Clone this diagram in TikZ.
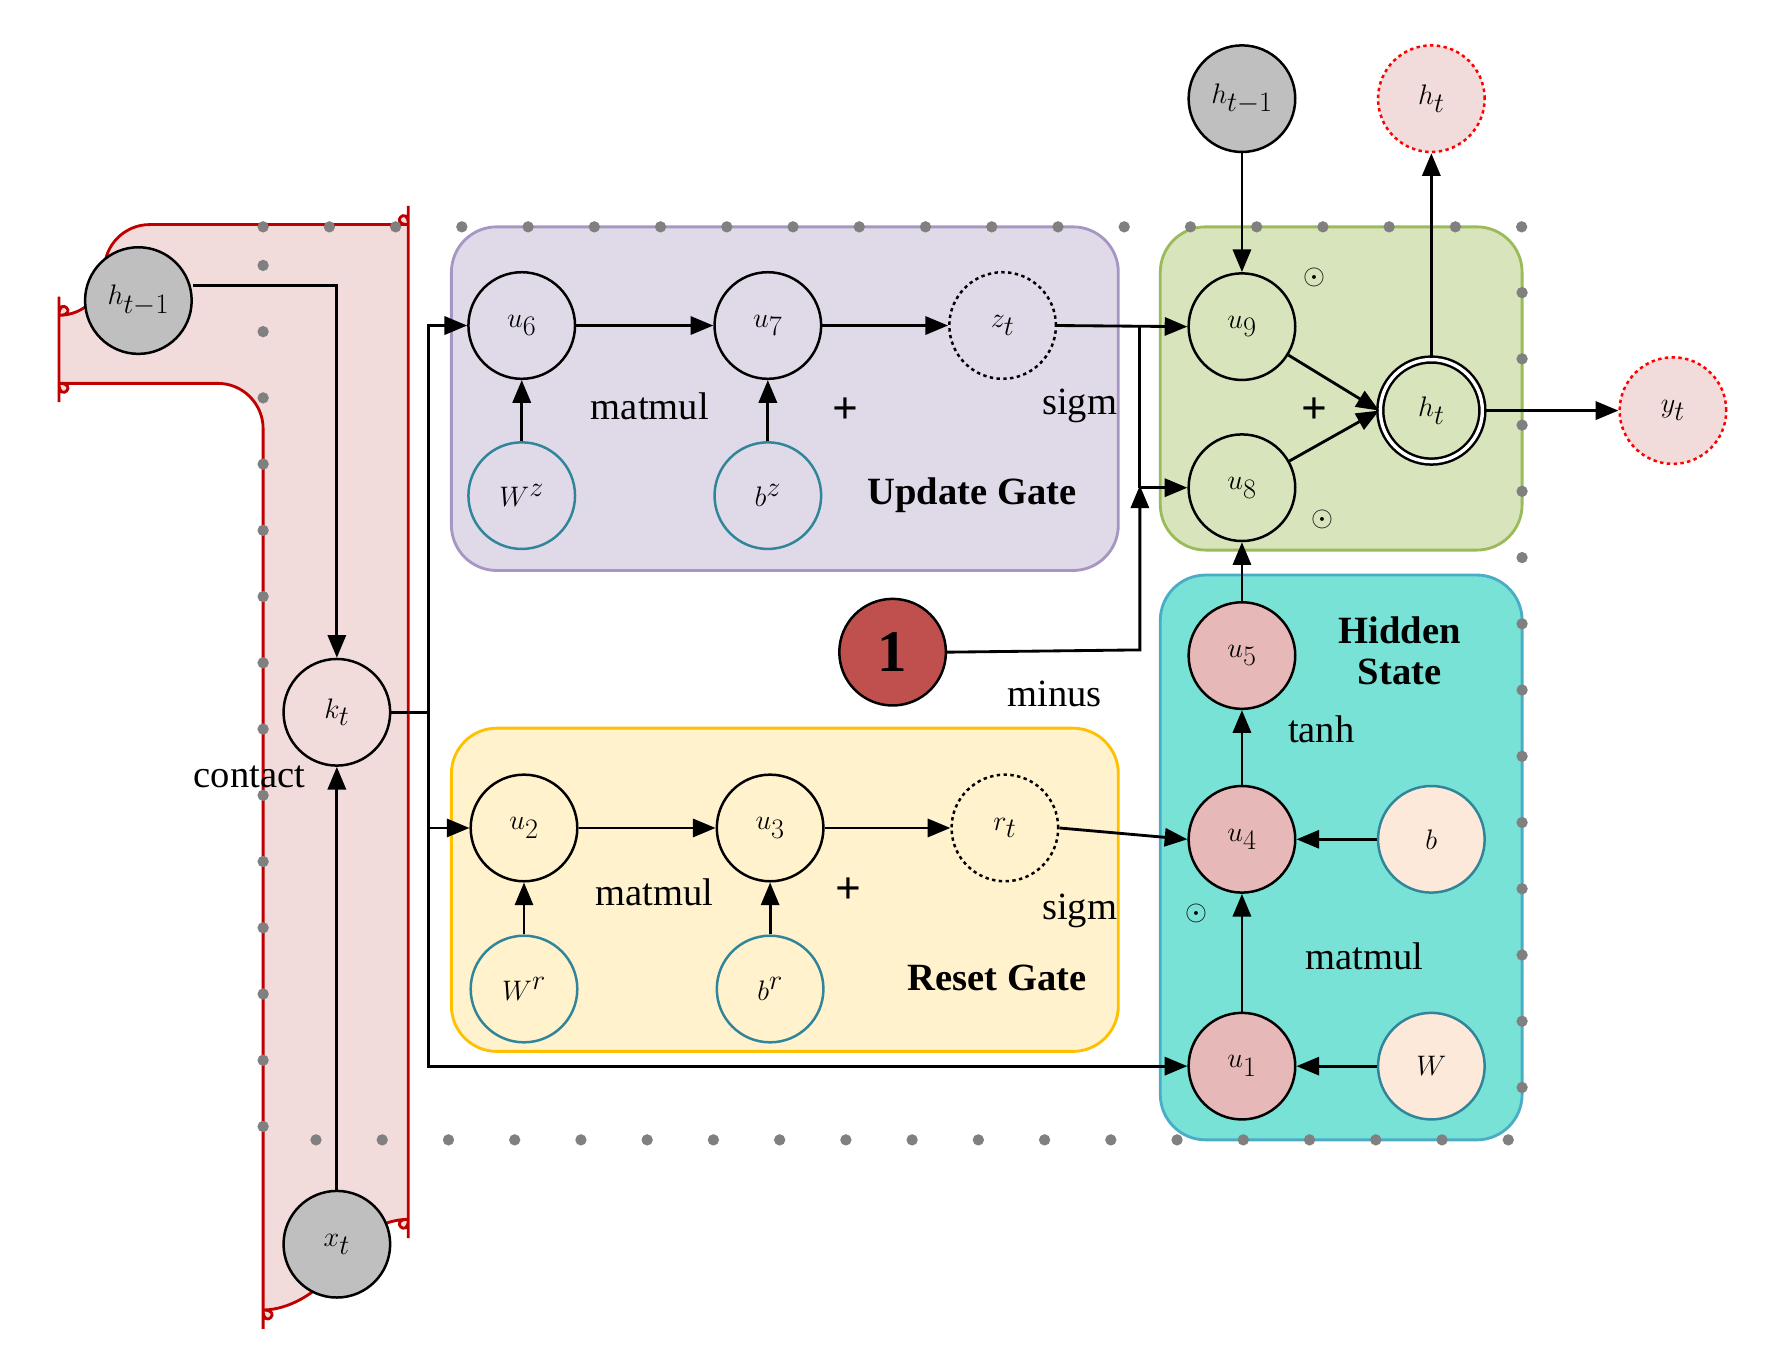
\documentclass[tikz,border=0pt]{standalone}
\usepackage{fontspec}
\setmainfont{Liberation Serif}
\usetikzlibrary{arrows.meta}
\definecolor{redbg}{RGB}{242,220,219}\definecolor{redbd}{RGB}{192,0,0}
\definecolor{purbg}{RGB}{224,218,232}\definecolor{purbd}{RGB}{167,150,196}
\definecolor{yelbg}{RGB}{255,242,204}\definecolor{yelbd}{RGB}{255,192,0}
\definecolor{grnbg}{RGB}{216,228,188}\definecolor{grnbd}{RGB}{155,187,89}
\definecolor{cyabg}{RGB}{120,226,214}\definecolor{cyabd}{RGB}{75,172,198}
\definecolor{pinkn}{RGB}{230,184,183}\definecolor{peach}{RGB}{252,233,218}
\definecolor{teal}{RGB}{49,133,155}\definecolor{onec}{RGB}{192,80,77}
\definecolor{grayn}{RGB}{191,191,191}
\begin{document}
\begin{tikzpicture}[x=1pt,y=-1pt,
  n/.style={circle,draw,line width=2.2pt,minimum size=94pt,inner sep=0pt,font=\fontsize{46}{46}\selectfont},
  gn/.style={n,fill=grayn},
  pn/.style={n,fill=pinkn},
  tn/.style={n,draw=teal},
  dn/.style={n,dashed},
  rn/.style={n,draw=red,dashed,fill=redbg},
  lab/.style={font=\fontsize{34}{34}\selectfont},
  blab/.style={font=\fontsize{34}{36}\selectfont\bfseries,align=center},
  pl/.style={font=\fontsize{40}{40}\selectfont\bfseries},
  od/.style={font=\fontsize{34}{34}\selectfont},
  box/.style={rounded corners=40pt,line width=2.5pt},
  a/.style={-{Triangle[length=20pt,width=16pt]},line width=2.5pt},
  l/.style={line width=2.5pt}]
\useasboundingbox (0,0) rectangle (1565,1186);
% boxes
\draw[box,fill=redbg,draw=redbd] (92,198) -- (320,198) arc[start angle=90,end angle=0,radius=40] -- (360,1115) arc[start angle=0,end angle=-90,radius=40] -- (272,1155) arc[start angle=270,end angle=180,radius=40] -- (232,338) -- (92,338) arc[start angle=270,end angle=180,radius=40] -- (52,238) arc[start angle=180,end angle=90,radius=40] -- cycle;
\draw[box,fill=purbg,draw=purbd] (398,200) rectangle (986,503);
\draw[box,fill=yelbg,draw=yelbd] (398,642) rectangle (986,927);
\draw[box,fill=grnbg,draw=grnbd] (1023,200) rectangle (1342,485);
\draw[box,fill=cyabg,draw=cyabd] (1023,507) rectangle (1342,1005);
\draw[gray,line width=10pt,line cap=round,dash pattern=on 0pt off 58.4pt] (232,200) -- (1342,200) -- (1342,1005) -- (232,1005) -- cycle;
% nodes
\node[gn] (h1) at (122,265) {$h_{t-1}$};
\node[n] (k) at (297,628) {$k_t$};
\node[gn] (x) at (297,1097) {$x_t$};
\node[n] (u6) at (460,287) {$u_6$};
\node[n] (u7) at (677,287) {$u_7$};
\node[dn] (z) at (884,287) {$z_t$};
\node[tn] (Wz) at (460,437) {$W^z$};
\node[tn] (bz) at (677,437) {$b^z$};
\node[n] (u2) at (462,730) {$u_2$};
\node[n] (u3) at (679,730) {$u_3$};
\node[dn] (r) at (886,730) {$r_t$};
\node[tn] (Wr) at (462,872) {$W^r$};
\node[tn] (br) at (679,872) {$b^r$};
\node[n] (u9) at (1095,288) {$u_9$};
\node[n] (u8) at (1095,430) {$u_8$};
\node[n,double,double distance=3pt,minimum size=90pt] (ht) at (1262,362) {$h_t$};
\node[gn] (h2) at (1095,87) {$h_{t-1}$};
\node[rn] (ho) at (1262,87) {$h_t$};
\node[rn] (y) at (1475,362) {$y_t$};
\node[pn] (u5) at (1095,578) {$u_5$};
\node[pn] (u4) at (1095,740) {$u_4$};
\node[pn] (u1) at (1095,940) {$u_1$};
\node[tn,fill=peach] (b) at (1262,740) {$b$};
\node[tn,fill=peach] (W) at (1262,940) {$W$};
\node[n,fill=onec,font=\fontsize{52}{52}\selectfont\bfseries] (one) at (787,575) {1};
% labels
\node[lab] (lc) at (220,685) {contact};
\node[lab] (lm1) at (573,358) {matmul};
\node[pl] (p1) at (745,362) {+};
\node[lab] (ls1) at (952,358) {sigm};
\node[blab] (ug) at (857,437) {Update Gate};
\node[lab] (lm2) at (577,787) {matmul};
\node[pl] (p2) at (748,785) {+};
\node[lab] (ls2) at (952,803) {sigm};
\node[blab] (rg) at (879,862) {Reset Gate};
\node[lab] (lmi) at (930,612) {minus};
\node[blab] (hs) at (1234,574) {Hidden\\ State};
\node[lab] (lt) at (1165,643) {tanh};
\node[lab] (lm3) at (1203,843) {matmul};
\node[od] (o1) at (1159,245) {$\odot$};
\node[od] (o2) at (1166,458) {$\odot$};
\node[od] (o3) at (1055,805) {$\odot$};
\node[pl] (p3) at (1159,362) {+};
% connectors
\coordinate (c1) at (297,252);
\draw[a] (h1.east |- c1) -- (c1) -- (k.north);
\draw[a] (x) -- (k);
\coordinate (kv) at (378,628);
\draw[l] (k.east) -- (kv);
\draw[a] (kv) -- (378,287) -- (u6.west);
\draw[a] (kv) -- (378,730) -- (u2.west);
\draw[a] (kv) -- (378,940) -- (u1.west);
\draw[a] (u6) -- (u7); \draw[a] (u7) -- (z);
\draw[a] (Wz) -- (u6); \draw[a] (bz) -- (u7);
\draw[a] (u2) -- (u3); \draw[a] (u3) -- (r);
\draw[a] (Wr) -- (u2); \draw[a] (br) -- (u3);
\coordinate (j1) at (1005,287);
\coordinate (j2) at (1005,430);
\draw[a] (z.east) -- (u9.west);
\draw[l] (j1) -- (j2);
\draw[a] (j2) -- (u8.west);
\draw[a] (one.east) -- (1005,573) -- (1005,428);
\draw[a] (r.east) -- (u4.west);
\draw[a] (u1) -- (u4); \draw[a] (u4) -- (u5); \draw[a] (u5) -- (u8);
\draw[a] (b) -- (u4); \draw[a] (W) -- (u1);
\draw[a] (u9) -- (ht.west); \draw[a] (u8) -- (ht.west);
\draw[a] (h2) -- (u9); \draw[a] (ht) -- (ho); \draw[a] (ht) -- (y);
\end{tikzpicture}
\end{document}
